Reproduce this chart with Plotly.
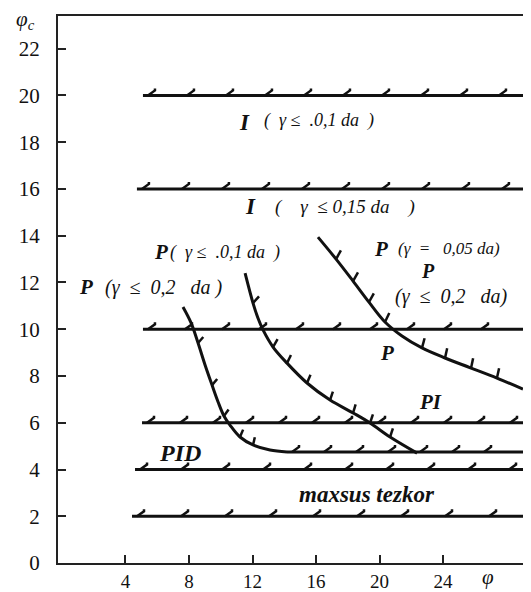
import numpy as np
import plotly.graph_objects as go

# ---------------- data ----------------
y_ticks = [0, 2, 4, 6, 8, 10, 12, 14, 16, 18, 20, 22]
x_ticks = [4, 8, 12, 16, 20, 24]

# horizontal boundary lines (level, left end)
levels = [20, 16, 10, 6, 4, 2]
level_starts = [5.10, 4.72, 5.10, 5.04, 4.60, 4.41]

# P (gamma <= 0,2) / PID boundary curve, then floor at 4.75
curve_a_x = [7.62, 8.13, 8.57, 9.01, 9.45, 9.83, 10.20, 10.58, 11.21, 12.03, 13.10, 14.17]
curve_a_y = [10.95, 10.27, 9.41, 8.47, 7.61, 6.89, 6.29, 5.90, 5.39, 5.05, 4.83, 4.75]
pid_floor_y = 4.75
pid_floor_start = 14.17

# P (gamma <= 0,1) curve
curve_b_x = [11.53, 12.03, 12.34, 12.66, 13.29, 14.17, 15.43, 16.88, 18.33, 19.40, 20.66, 22.36]
curve_b_y = [12.40, 11.12, 10.48, 9.97, 9.24, 8.55, 7.70, 6.97, 6.42, 5.99, 5.39, 4.70]

# P (gamma = 0,05) curve
curve_c_x = [16.12, 17.26, 18.33, 19.33, 20.34, 21.41, 22.67, 24.12, 25.76, 27.39, 29.03]
curve_c_y = [13.94, 13.00, 12.06, 11.16, 10.31, 9.71, 9.20, 8.77, 8.34, 7.91, 7.44]

# ---------------- geometry / style ----------------
X_RANGE = [-0.25, 29.03]
Y_RANGE = [0, 23.4]
OFF = 8                      # page body margin in the browser
W, H = 531 - OFF, 592 - OFF
ML, MT = 58 - OFF, 16 - OFF
MR = W - (523 - OFF)
MB = H - (563 - OFF)
PW, PH = W - ML - MR, H - MT - MB
PX_X = PW / (X_RANGE[1] - X_RANGE[0])
PX_Y = PH / (Y_RANGE[1] - Y_RANGE[0])
X_END = X_RANGE[1]
FONT = "Liberation Serif"
INK = "#111111"

hatch_steps_px = [39, 40, 37, 33, 41, 44]

fig = go.Figure()

# horizontal lines
lx, ly = [], []
for lev, st in zip(levels, level_starts):
    lx += [st, X_END, None]
    ly += [lev, lev, None]
lx += [pid_floor_start, X_END, None]
ly += [pid_floor_y, pid_floor_y, None]
fig.add_trace(go.Scatter(x=lx, y=ly, mode="lines", line=dict(color=INK, width=3),
                         hoverinfo="skip", showlegend=False))

# hatches on horizontal lines
hx, hy = [], []
def h_hatches(start, lev, step_px):
    for xv in np.arange(start + 10 / PX_X, X_END - 6 / PX_X, step_px / PX_X):
        hx.extend([xv - 5 / PX_X, xv + 2 / PX_X, xv + 2 / PX_X, None])
        hy.extend([lev, lev + 5 / PX_Y, lev + 7 / PX_Y, None])

for lev, st, sp in zip(levels, level_starts, hatch_steps_px):
    h_hatches(st, lev, sp)
h_hatches(pid_floor_start, pid_floor_y, 32)

# curves
for cx, cy in [(curve_a_x, curve_a_y), (curve_b_x, curve_b_y), (curve_c_x, curve_c_y)]:
    fig.add_trace(go.Scatter(x=cx, y=cy, mode="lines",
                             line=dict(color=INK, width=3, shape="spline", smoothing=1.0),
                             hoverinfo="skip", showlegend=False))

# hatches on curves (at read points, pointing to upper right)
def c_hatches(cx, cy, idx, length):
    for i in idx:
        tx = (cx[i + 1] - cx[i - 1]) * PX_X
        ty = (cy[i + 1] - cy[i - 1]) * PX_Y
        n1 = np.array([-ty, tx])
        if n1.sum() < 0:
            n1 = -n1
        n1 = n1 / np.hypot(*n1)
        d = n1 + np.array([0.0, 0.8])
        d = d / np.hypot(*d)
        hx.extend([cx[i], cx[i] + d[0] * length / PX_X, None])
        hy.extend([cy[i], cy[i] + d[1] * length / PX_Y, None])

c_hatches(curve_a_x, curve_a_y, [2, 4, 6, 8, 9], 8)
c_hatches(curve_b_x, curve_b_y, [1, 4, 5, 6, 7, 8, 9, 10], 9)
c_hatches(curve_c_x, curve_c_y, [1, 2, 3, 4, 6, 7, 8, 9], 10)

fig.add_trace(go.Scatter(x=hx, y=hy, mode="lines", line=dict(color=INK, width=2.5),
                         hoverinfo="skip", showlegend=False))

# ---------------- labels ----------------
def ann(x, y, text, size, xanchor="left", bold=False):
    t = "<i>" + text + "</i>"
    if bold:
        t = "<b>" + t + "</b>"
    fig.add_annotation(x=x, y=y, text=t, showarrow=False, xanchor=xanchor, yanchor="middle",
                       font=dict(family=FONT, size=size, color=INK))

ann(11.02, 18.86, "I", 23, bold=True)
ann(12.60, 18.95, "(  γ ≤  .0,1 da  )", 18)
ann(11.40, 15.23, "I", 23, bold=True)
ann(13.29, 15.23, "(    γ  ≤ 0,15 da    )", 19)
ann(5.67, 13.30, "P", 21, bold=True)
ann(6.68, 13.30, "(  γ ≤  .0,1 da  )", 18)
ann(0.95, 11.80, "P", 21, bold=True)
ann(2.58, 11.80, "(γ  ≤  0,2   da )", 20)
ann(19.52, 13.45, "P", 21, bold=True)
ann(21.03, 13.45, "(γ  =   0,05 da)", 17)
ann(23.05, 12.50, "P", 20, xanchor="center", bold=True)
ann(20.85, 11.42, "(γ  ≤  0,2   da)", 20)
ann(20.47, 8.98, "P", 21, xanchor="center", bold=True)
ann(23.18, 6.89, "PI", 21, xanchor="center", bold=True)
ann(7.43, 4.70, "PID", 24, xanchor="center", bold=True)
ann(19.21, 2.91, "maxsus tezkor", 23, xanchor="center", bold=True)

def page_to_paper(px, py):
    return ((px - OFF) - ML) / PW, (H - MB - (py - OFF)) / PH

fx, fy = page_to_paper(25, 20)
fig.add_annotation(xref="paper", yref="paper", x=fx, y=fy,
                   text="<i>φ<sub>c</sub></i>", showarrow=False, xanchor="center", yanchor="middle",
                   font=dict(family=FONT, size=21, color=INK))
fx, fy = page_to_paper(488, 577)
fig.add_annotation(xref="paper", yref="paper", x=fx, y=fy,
                   text="<i>φ</i>", showarrow=False, xanchor="center", yanchor="middle",
                   font=dict(family=FONT, size=21, color=INK))

axis_common = dict(showgrid=False, zeroline=False, showline=True, linecolor="#222222",
                   linewidth=2, mirror=True, ticks="inside", ticklen=8, tickwidth=1.5,
                   tickcolor="#222222", automargin=False)

fig.update_layout(
    width=W, height=H,
    margin=dict(l=ML, r=MR, t=MT, b=MB),
    paper_bgcolor="white", plot_bgcolor="white",
    xaxis=dict(range=X_RANGE, tickvals=x_ticks, ticklabelstandoff=0,
               tickfont=dict(family=FONT, size=19, color=INK), **axis_common),
    yaxis=dict(range=Y_RANGE, tickvals=y_ticks, ticklabelstandoff=12,
               tickfont=dict(family=FONT, size=21, color=INK), **axis_common),
)

fig.write_html("out.html")
